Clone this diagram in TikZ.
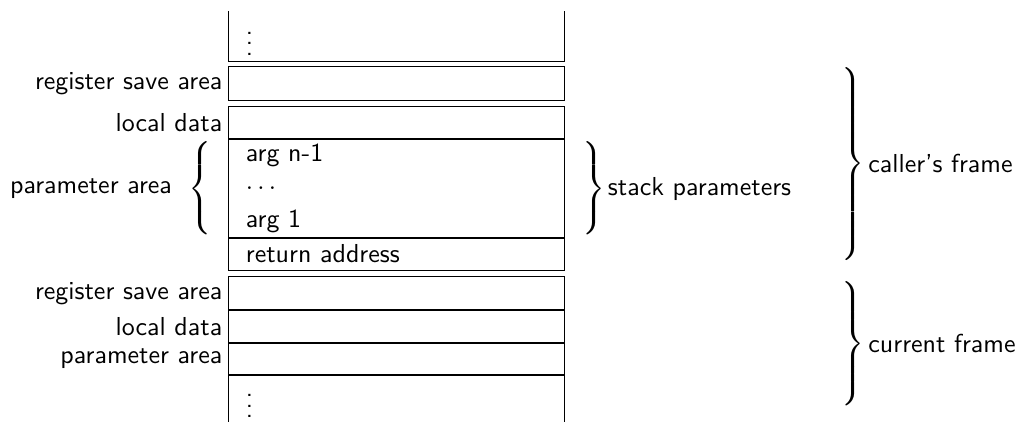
\documentclass[tikz,border=0pt]{standalone}
\usepackage{graphicx}
\usepackage{tikz}
\usetikzlibrary{matrix,calc}

\tikzset{
  cell/.style={rectangle, inner xsep=6.5pt, inner ysep=0pt, text width=116pt, minimum height=12.6pt, align=left, anchor=west},
  lbl/.style={inner sep=0pt, anchor=east},
  brc/.style={inner sep=0pt},
}
\newcommand{\closebrc}[1]{$\left.\vcenter{\hrule height #1 width 0pt}\right\}$}
\newcommand{\openbrc}[1]{$\left\{\vcenter{\hrule height #1 width 0pt}\right.$}
\delimiterfactor=1000
\delimitershortfall=0pt

\begin{document}
\begin{tikzpicture}[font=\sffamily]
 \matrix (m) [matrix of nodes, nodes in empty cells, row sep=0pt, column sep=2.6pt,
   column 1/.style={nodes={lbl}}, column 2/.style={nodes={cell}}]
  {
    & |[minimum height=18.9pt]| $\vdots$ \\[2.6pt]
    register save area & \\[2.6pt]
    local data & \\
    & arg n-1 \\
    & $\ldots$ \\
    & arg 1 \\
    & return address \\[2.6pt]
    register save area & \\
    local data & \\
    parameter area & \\
    & |[minimum height=17.7pt]| $\vdots$ \\
  };
  \foreach \r in {2,3,7,8,9,10}
    \draw (m-\r-2.north west) rectangle (m-\r-2.south east);
  \draw (m-1-2.north west) -- (m-1-2.south west) -- (m-1-2.south east) -- (m-1-2.north east);
  \draw (m-4-2.north west) rectangle (m-6-2.south east);
  \draw (m-11-2.south west) -- (m-11-2.north west) -- (m-11-2.north east) -- (m-11-2.south east);

  \node (pbrace) [brc, anchor=east] at ($(m-5-2.west)+(-5.3pt,0)$) {\openbrc{35.8pt}};
  \node (parea) [lbl] at ($(pbrace.west)+(-5.8pt,0)$) {parameter area};
  \node (sbrace) [brc, anchor=west] at ($(m-5-2.east)+(5.4pt,0)$) {\closebrc{35.8pt}};
  \node (stack) [brc, anchor=west] at ($(sbrace.east)+(0.6pt,0)$) {stack parameters};
  \node (cbrace) [brc, anchor=west] at ($(m-2-2.north east)+(105.2pt,-37.4pt)$) {\scalebox{1}[1.03]{\closebrc{69pt}}};
  \node (caller) [brc, anchor=west] at ($(cbrace.east)+(1.1pt,0)$) {caller's frame};
  \node (kbrace) [brc, anchor=west] at ($(m-8-2.north east)+(105.2pt,-25.8pt)$) {\closebrc{44pt}};
  \node (current) [brc, anchor=west] at ($(kbrace.east)+(1.1pt,0)$) {current frame};

  \pgfresetboundingbox
  \useasboundingbox ([shift={(-88pt,4.2pt)}]m-1-2.north west) rectangle ([xshift=303.2pt]m-11-2.south west);
\end{tikzpicture}
\end{document}
